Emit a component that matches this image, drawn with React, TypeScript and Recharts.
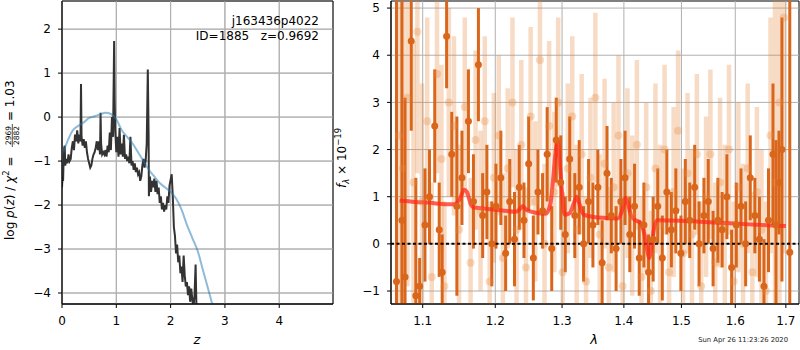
import React from 'react';
import { ComposedChart, Line, Scatter, ErrorBar, XAxis, YAxis, CartesianGrid, ReferenceLine, ReferenceArea } from 'recharts';

// ---- left panel: log p(z) ----
const zGrid = [
  0.0, 0.01, 0.02, 0.03, 0.04, 0.05, 0.06, 0.08, 0.1, 0.12, 0.14, 0.16, 0.18, 0.2, 0.22, 0.24, 0.26, 0.28, 0.3, 0.32,
  0.34, 0.35, 0.36, 0.38, 0.4, 0.42, 0.44, 0.46, 0.48, 0.5, 0.52, 0.54, 0.56, 0.58, 0.6, 0.62, 0.64, 0.66, 0.68, 0.7,
  0.71, 0.72, 0.74, 0.76, 0.78, 0.8, 0.82, 0.84, 0.86, 0.88, 0.9, 0.92, 0.94, 0.96, 0.97, 0.98, 1.0, 1.02, 1.04, 1.06,
  1.08, 1.1, 1.12, 1.14, 1.16, 1.18, 1.2, 1.22, 1.24, 1.26, 1.28, 1.3, 1.32, 1.34, 1.36, 1.38, 1.4, 1.42, 1.44, 1.46,
  1.48, 1.5, 1.52, 1.54, 1.56, 1.58, 1.595, 1.6, 1.62, 1.64, 1.66, 1.68, 1.7, 1.72, 1.74, 1.76, 1.78, 1.8, 1.82, 1.84,
  1.86, 1.88, 1.9, 1.92, 1.94, 1.96, 1.98, 2.02, 2.04, 2.06, 2.08, 2.1, 2.12, 2.14, 2.16, 2.18, 2.2, 2.22, 2.24, 2.26,
  2.28, 2.3, 2.32, 2.34, 2.36, 2.38, 2.4, 2.42, 2.44, 2.46, 2.48,
];
const logPz = [
  -1.6, -1.35, -1.45, -0.95, -0.7, -0.65, -1.1, -0.95, -1.05, -0.85, -1.0, -0.95, -0.7, -0.55, -0.75, -0.4, -0.55, -0.3, -0.6, -0.4,
  -0.55, 0.75, -0.45, -0.65, -0.5, -0.7, -0.55, -0.8, -0.95, -1.05, -1.15, -1.1, -0.95, -0.85, -0.8, -0.7, -0.55, -0.75, -0.55, -0.85,
  0.1, -0.6, -0.85, -0.8, -0.85, -0.75, -0.9, -0.65, -0.8, -0.35, -0.75, 0.0, -0.45, 1.73, 0.4, -0.3, -0.8, -0.45, -0.9, -0.25,
  -0.85, -0.6, -0.9, -0.4, -0.95, -0.85, -1.0, -0.9, -1.05, -0.45, -1.1, -1.0, -1.2, -1.05, -1.25, -1.15, -1.3, -1.25, -1.45, -1.35,
  -1.1, -0.95, -1.15, -1.0, -0.6, 1.08, -0.4, -1.8, -1.35, -1.7, -1.45, -1.6, -1.4, -1.7, -1.45, -1.75, -1.6, -1.95, -1.8, -2.1,
  -1.95, -2.15, -2.0, -2.1, -1.8, -1.95, -1.55, -1.3, -1.8, -2.5, -2.7, -3.1, -2.9, -3.3, -3.15, -3.55, -3.4, -3.75, -3.15, -3.6,
  -3.85, -3.75, -4.05, -3.85, -4.2, -3.9, -4.15, -4.35, -4.05, -3.35, -4.6,
];
const zPrior = [0.02, 0.1, 0.2, 0.3, 0.4, 0.5, 0.6, 0.7, 0.8, 0.9, 1.0, 1.1, 1.2, 1.3, 1.4, 1.5, 1.6, 1.7, 1.8, 1.9, 2.0, 2.1, 2.2, 2.3, 2.4, 2.5, 2.6, 2.7, 2.8];
const logPrior = [-0.8, -0.55, -0.3, -0.2, -0.12, -0.02, 0.02, 0.06, 0.1, 0.07, -0.05, -0.3, -0.45, -0.6, -0.8, -1.0, -1.2, -1.35, -1.5, -1.6, -1.7, -1.85, -2.1, -2.45, -2.75, -3.05, -3.5, -3.95, -4.4];
const zTicks = [0, 1, 2, 3, 4];
const pzTicks = [-4, -3, -2, -1, 0, 1, 2];

// ---- right panel: spectrum ----
const darkWave = [
  1.066, 1.073, 1.077, 1.085, 1.091, 1.096, 1.103, 1.109, 1.116, 1.122, 1.126, 1.132, 1.139, 1.146, 1.153, 1.162, 1.169, 1.176,
  1.182, 1.188, 1.195, 1.201, 1.208, 1.215, 1.221, 1.228, 1.235, 1.242, 1.249, 1.256, 1.263, 1.27, 1.277, 1.284, 1.291, 1.298,
  1.305, 1.312, 1.32, 1.327, 1.334, 1.342, 1.349, 1.357, 1.364, 1.372, 1.379, 1.387, 1.395, 1.402, 1.41, 1.418, 1.426, 1.434,
  1.442, 1.45, 1.458, 1.466, 1.474, 1.482, 1.49, 1.499, 1.507, 1.515, 1.524, 1.532, 1.541, 1.549, 1.558, 1.567, 1.575, 1.584,
  1.593, 1.602, 1.611, 1.62, 1.629, 1.638, 1.647, 1.656, 1.665, 1.674, 1.68, 1.686, 1.692, 1.708,
];
const darkFlux = [
  -0.8, 0.5, -0.7, 4.3, -1.1, -0.9, 0.4, 1.0, 2.5, 0.3, -0.6, 4.4, 1.9, 0.8, 1.4, 2.6, 0.9, 3.8,
  0.6, 1.1, 0.0, 0.8, 1.4, -0.2, 0.9, 0.1, 1.2, 0.5, 1.7, -0.3, 1.1, 0.7, 1.9, -0.1, 2.2, 1.3,
  0.2, 1.8, 0.6, 1.2, 0.0, 0.9, 0.4, 1.2, -0.4, 1.5, 0.6, -0.1, 0.9, 1.4, 0.2, 0.8, -0.3, 0.4,
  -0.6, 0.1, 0.8, -0.3, 1.1, 0.3, 0.7, -0.2, 0.9, 0.5, 1.2, 0.0, 0.6, 0.9, -0.1, 0.5, 0.3, 1.0,
  -0.5, 0.4, 0.8, 0.0, 1.4, 0.6, 0.1, -0.9, 0.5, 1.9, 0.4, 1.3, 2.0, -0.18,
];
const darkErr = [
  6, 6, 3.8, 1.9, 2.5, 0.6, 1.2, 1.0, 1.2, 1.0, 0.8, 1.1, 0.9, 1.9, 1.0, 1.1, 1.0, 1.2,
  0.9, 1.0, 0.9, 0.9, 1.0, 0.8, 0.9, 1.0, 0.9, 0.8, 1.0, 0.9, 0.9, 0.8, 1.0, 0.9, 0.9, 1.0,
  0.8, 0.9, 0.9, 1.0, 0.8, 0.9, 0.9, 0.8, 0.9, 1.0, 0.8, 0.9, 0.9, 1.0, 0.8, 0.9, 0.8, 0.9,
  0.8, 0.9, 0.8, 0.9, 0.9, 0.8, 0.9, 0.8, 0.9, 0.8, 0.9, 0.9, 0.8, 0.9, 0.8, 0.9, 0.8, 0.9,
  0.8, 0.9, 0.8, 0.9, 0.9, 0.8, 0.9, 1.0, 1.1, 1.5, 1.8, 1.1, 2.8, 6,
];
const lightWave = [
  1.069, 1.074, 1.08, 1.088, 1.093, 1.099, 1.106, 1.112, 1.119, 1.125, 1.129, 1.135, 1.142, 1.149, 1.157, 1.165, 1.172, 1.179,
  1.185, 1.192, 1.198, 1.205, 1.211, 1.218, 1.225, 1.231, 1.238, 1.245, 1.252, 1.259, 1.266, 1.273, 1.28, 1.288, 1.294, 1.301,
  1.309, 1.316, 1.323, 1.331, 1.338, 1.345, 1.353, 1.36, 1.368, 1.375, 1.383, 1.391, 1.398, 1.406, 1.414, 1.422, 1.43, 1.438,
  1.446, 1.454, 1.462, 1.47, 1.478, 1.486, 1.494, 1.503, 1.511, 1.519, 1.528, 1.536, 1.545, 1.553, 1.562, 1.571, 1.58, 1.588,
  1.597, 1.606, 1.615, 1.624, 1.633, 1.642, 1.651, 1.66, 1.669, 1.678, 1.687, 1.696,
];
const lightFlux = [
  2.3, 1.6, 3.1, 1.3, 4.5, 0.9, 2.6, -0.7, 3.6, 1.8, -0.9, 3.0, 2.5, 0.3, 2.9, -0.4, 2.2, 0.7,
  2.6, -0.8, 1.4, 2.3, -0.3, 1.6, 3.0, 0.3, 2.1, -0.5, 2.7, 0.9, 3.9, 0.0, 2.5, 1.1, 3.0, -0.6,
  1.6, 2.7, 0.3, 1.9, -0.8, 1.4, 3.1, 0.2, 1.7, -0.5, 1.2, 2.3, -0.9, 1.5, 0.6, 2.1, -0.7, 1.2,
  -1.0, 1.6, 0.4, 2.0, -0.6, 1.1, 2.4, -0.2, 1.5, 0.2, 1.9, -0.9, 1.0, 1.9, -0.4, 1.3, 0.4, 2.0,
  -0.8, 1.2, 0.0, 1.6, -0.6, 1.1, 0.3, -1.0, 2.3, 1.3, 3.0, 4.8,
];
const lightErr = [
  6, 6, 4, 3, 3, 2.5, 2.2, 2.0, 2.1, 2.0, 1.8, 2.0, 1.9, 1.8, 1.9, 1.8, 1.9, 1.7,
  1.8, 1.7, 1.8, 1.7, 1.8, 1.7, 1.8, 1.7, 1.8, 1.7, 1.9, 1.7, 1.9, 1.7, 1.8, 1.7, 1.8, 1.7,
  1.8, 1.7, 1.8, 1.7, 1.8, 1.7, 1.8, 1.7, 1.8, 1.7, 1.8, 1.7, 1.7, 1.8, 1.7, 1.8, 1.7, 1.8,
  1.7, 1.8, 1.7, 1.8, 1.7, 1.8, 1.7, 1.8, 1.7, 1.8, 1.7, 1.8, 1.7, 1.8, 1.7, 1.8, 1.7, 1.8,
  1.7, 1.8, 1.7, 1.8, 1.7, 1.8, 1.7, 1.9, 2.5, 4, 5, 5,
];
const modelWave = [
  1.07, 1.09, 1.11, 1.13, 1.142, 1.15, 1.156, 1.16, 1.165, 1.17, 1.19, 1.21, 1.23, 1.236, 1.24, 1.246, 1.26, 1.275,
  1.282, 1.286, 1.29, 1.293, 1.296, 1.3, 1.304, 1.312, 1.318, 1.323, 1.328, 1.334, 1.35, 1.37, 1.39, 1.397, 1.403, 1.407,
  1.412, 1.42, 1.428, 1.435, 1.44, 1.443, 1.447, 1.452, 1.457, 1.5, 1.55, 1.6, 1.65, 1.7,
];
const modelFlux = [
  0.92, 0.89, 0.87, 0.84, 0.84, 0.95, 1.15, 1.1, 0.85, 0.77, 0.74, 0.71, 0.68, 0.74, 0.8, 0.72, 0.66, 0.64,
  0.85, 1.35, 1.95, 2.2, 1.8, 1.1, 0.62, 0.65, 0.85, 1.0, 0.82, 0.62, 0.57, 0.55, 0.54, 0.7, 0.98, 0.85,
  0.6, 0.5, 0.45, 0.2, -0.15, -0.3, -0.05, 0.35, 0.5, 0.49, 0.46, 0.43, 0.4, 0.38,
];
const waveTicks = [1.1, 1.2, 1.3, 1.4, 1.5, 1.6, 1.7];
const fluxTicks = [-1, 0, 1, 2, 3, 4, 5];

const Z_DOMAIN: [number, number] = [0, 4.99];
const PZ_DOMAIN: [number, number] = [-4.25, 2.64];
const WAVE_DOMAIN: [number, number] = [1.059, 1.727];
const FLUX_DOMAIN: [number, number] = [-1.275, 5.15];

const FONT = '"DejaVu Sans", sans-serif';
const GRID = '#b0b0b0';
const DARK = '#d9661a';
const LIGHT = '#e8893a';

const fmt = (v: number) => (v < 0 ? `\u2212${Math.abs(v)}` : `${v}`);
const tickStyle = { fontSize: 12, fill: '#000', fontFamily: FONT };

// error bars are cut at the plot edges, like matplotlib's axes clipping
const clipErr = (f: number, e: number) => [Math.min(e, f - FLUX_DOMAIN[0]), Math.min(e, FLUX_DOMAIN[1] - f)];

const pzData = zGrid.map((z, i) => ({ x: z, y: logPz[i] }));
const priorData = zPrior.map((z, i) => ({ x: z, y: logPrior[i] }));
const darkData = darkWave.map((w, i) => ({ x: w, f: darkFlux[i], e: clipErr(darkFlux[i], darkErr[i]) }));
const lightData = lightWave.map((w, i) => ({ x: w, f: lightFlux[i], e: clipErr(lightFlux[i], lightErr[i]) }));
const modelData = modelWave.map((w, i) => ({ x: w, f: modelFlux[i] }));

const dot = (color: string, r: number, opacity: number) => (props: any) => (
  <circle cx={props.cx} cy={props.cy} r={r} fill={color} fillOpacity={opacity} />
);

const PzPanel = () => (
  <ComposedChart width={340} height={350} margin={{ top: 1, right: 7, bottom: 16, left: 0 }}>
    <CartesianGrid stroke={GRID} strokeWidth={1} strokeOpacity={1} />
    <XAxis
      type="number" dataKey="x" domain={Z_DOMAIN} ticks={zTicks} allowDataOverflow height={30}
      tick={tickStyle} tickSize={4} tickMargin={8} stroke="#000" tickFormatter={fmt}
    />
    <YAxis
      type="number" domain={PZ_DOMAIN} ticks={pzTicks} allowDataOverflow width={62}
      tick={tickStyle} tickSize={4} tickMargin={7} stroke="#000" tickFormatter={fmt}
    />
    {zTicks.map((t) => (
      <ReferenceLine key={`zx${t}`} x={t} stroke={GRID} strokeWidth={1} />
    ))}
    {pzTicks.map((t) => (
      <ReferenceLine key={`zy${t}`} y={t} stroke={GRID} strokeWidth={1} />
    ))}
    <Line data={pzData} dataKey="y" type="linear" stroke="#333333" strokeWidth={2} dot={false} isAnimationActive={false} />
    <Line data={priorData} dataKey="y" type="monotone" stroke="#1f77b4" strokeOpacity={0.5} strokeWidth={2} dot={false} isAnimationActive={false} />
    <ReferenceArea x1={Z_DOMAIN[0]} x2={Z_DOMAIN[1]} y1={PZ_DOMAIN[0]} y2={PZ_DOMAIN[1]} fill="none" stroke="#000" strokeWidth={1} />
  </ComposedChart>
);

const SpecPanel = () => (
  <ComposedChart width={465} height={350} margin={{ top: 1, right: 1, bottom: 16, left: 0 }}>
    <XAxis
      type="number" dataKey="x" scale="log" domain={WAVE_DOMAIN} ticks={waveTicks} allowDataOverflow height={30}
      tick={tickStyle} tickSize={4} tickMargin={8} stroke="#000"
    />
    <YAxis
      type="number" domain={FLUX_DOMAIN} ticks={fluxTicks} allowDataOverflow width={56}
      tick={tickStyle} tickSize={4} tickMargin={7} stroke="#000" tickFormatter={fmt}
    />
    {waveTicks.map((t) => (
      <ReferenceLine key={`wx${t}`} x={t} stroke={GRID} strokeWidth={1} />
    ))}
    {fluxTicks.map((t) => (
      <ReferenceLine key={`wy${t}`} y={t} stroke={GRID} strokeWidth={1} />
    ))}
    <Scatter data={lightData} dataKey="f" shape={dot(LIGHT, 4, 0.3)} isAnimationActive={false}>
      <ErrorBar dataKey="e" direction="y" width={0} stroke={LIGHT} strokeOpacity={0.3} strokeWidth={4.5} />
    </Scatter>
    <Scatter data={darkData} dataKey="f" shape={dot(DARK, 3.5, 1)} isAnimationActive={false}>
      <ErrorBar dataKey="e" direction="y" width={0} stroke={DARK} strokeWidth={3} />
    </Scatter>
    <ReferenceLine y={0} stroke="#000" strokeWidth={2} strokeDasharray="3 2.5" />
    <Line data={modelData} dataKey="f" type="monotone" stroke="#ff2a1a" strokeOpacity={0.75} strokeWidth={4} dot={false} isAnimationActive={false} />
    <ReferenceArea x1={WAVE_DOMAIN[0]} x2={WAVE_DOMAIN[1]} y1={FLUX_DOMAIN[0]} y2={FLUX_DOMAIN[1]} fill="none" stroke="#000" strokeWidth={1} />
  </ComposedChart>
);

const Labels = () => (
  <svg width={800} height={350} style={{ position: 'absolute', left: 0, top: 0, pointerEvents: 'none' }} fontFamily={FONT}>
    <text x={319} y={25} fontSize={12} textAnchor="end">j163436p4022</text>
    <text x={319} y={39.5} fontSize={12} textAnchor="end" style={{ whiteSpace: 'pre' }}>ID=1885   z=0.9692</text>
    <g transform="rotate(-90)">
      <text x={-240} y={13.5} fontSize={12}>
        log <tspan fontStyle="italic">p</tspan>(<tspan fontStyle="italic">z</tspan>) / <tspan fontStyle="italic">χ</tspan>
        <tspan fontSize={8.5} dy={-5}>2</tspan><tspan dy={5}> =</tspan>
      </text>
      <text x={-135.5} y={11} fontSize={7.5} textAnchor="middle">2969</text>
      <line x1={-147} x2={-124} y1={12.3} y2={12.3} stroke="#000" strokeWidth={0.7} />
      <text x={-135.5} y={18.5} fontSize={7.5} textAnchor="middle">2882</text>
      <text x={-121} y={13.5} fontSize={12}>= 1.03</text>
      <text x={-188} y={346} fontSize={12}>
        <tspan fontStyle="italic">f</tspan><tspan fontSize={8.5} fontStyle="italic" dy={3}>λ</tspan>
        <tspan dy={-3}> × 10</tspan><tspan fontSize={8.5} dy={-5}>−19</tspan>
      </text>
    </g>
    <text x={197} y={344} fontSize={13} fontStyle="italic" textAnchor="middle">z</text>
    <text x={594} y={344} fontSize={13} fontStyle="italic" textAnchor="middle">λ</text>
    <text x={788} y={342} fontSize={6.8} textAnchor="end" fill="#222">Sun Apr 26 11:23:26 2020</text>
  </svg>
);

export default function App() {
  return (
    <div style={{ position: 'absolute', left: 0, top: 0, width: 800, height: 350, background: '#fff', fontFamily: FONT }}>
      <div style={{ position: 'absolute', left: 0, top: 0 }}>
        <PzPanel />
      </div>
      <div style={{ position: 'absolute', left: 335, top: 0 }}>
        <SpecPanel />
      </div>
      <Labels />
    </div>
  );
}
